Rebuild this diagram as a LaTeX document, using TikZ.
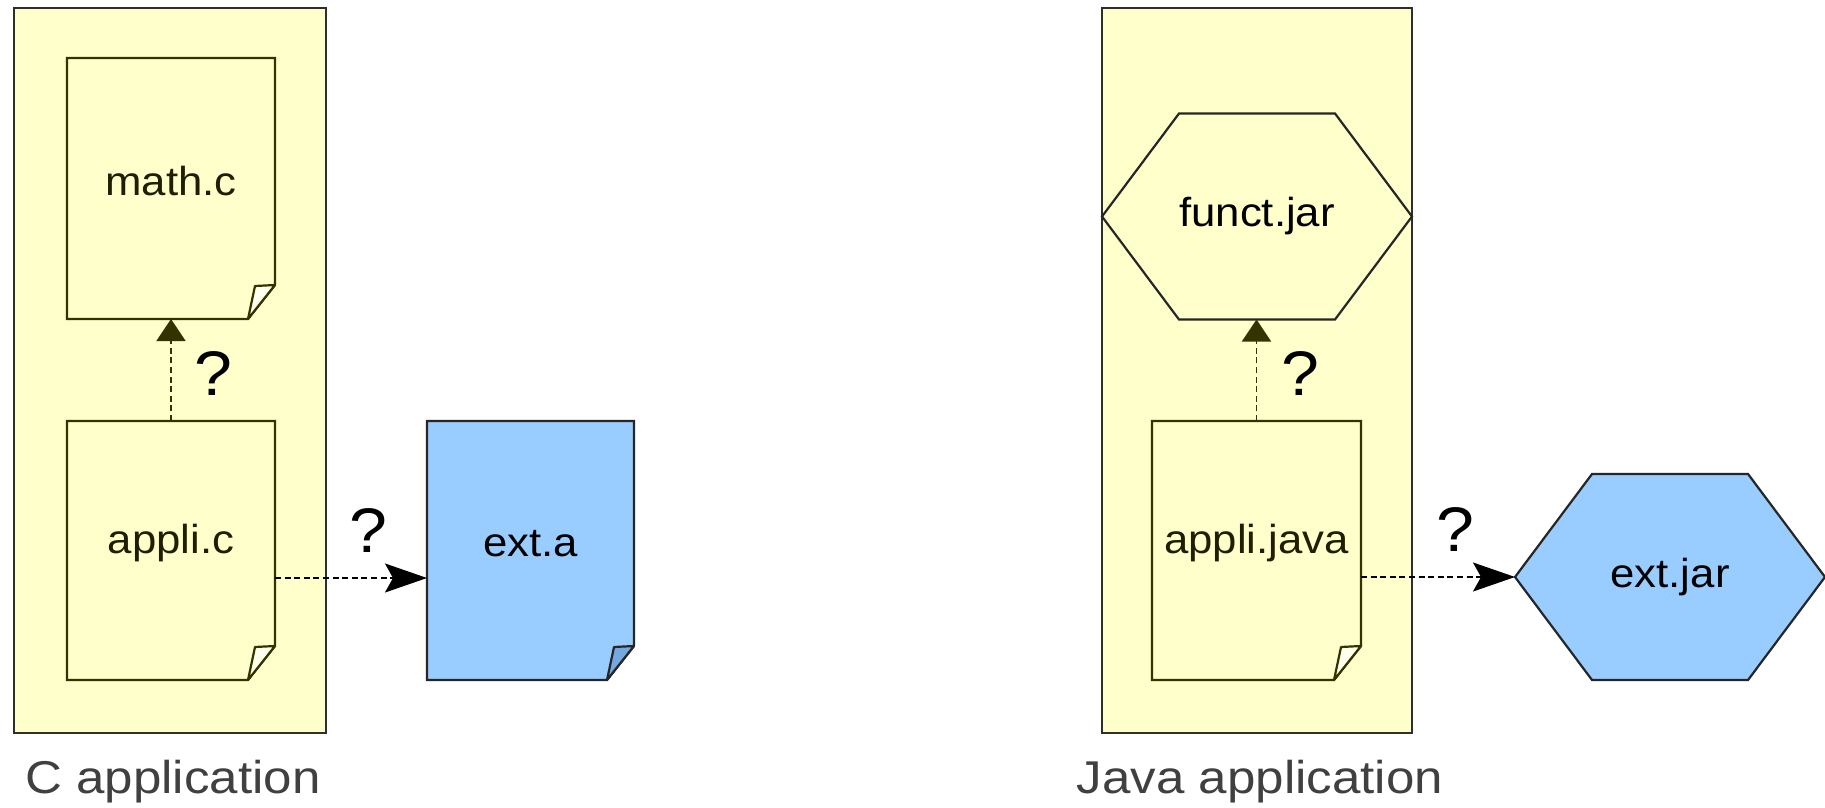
\documentclass[tikz,border=0pt]{standalone}
\usepackage{fontspec}
\setmainfont[FakeStretch=1.08]{Liberation Sans}
\newfontfamily\capfont[FakeStretch=1.11]{Liberation Sans}
\usetikzlibrary{arrows.meta,calc}
\definecolor{paperfill}{HTML}{FFFFCC}
\definecolor{flapfill}{HTML}{FFFFEE}
\definecolor{bluefill}{HTML}{99CCFF}
\definecolor{blueflap}{HTML}{74A9E0}
\definecolor{docline}{HTML}{333300}
\definecolor{boxline}{HTML}{2E2E2E}
\definecolor{captext}{HTML}{404040}
\definecolor{labtext}{HTML}{1E1E00}
\pgfdeclarelayer{bg}
\pgfsetlayers{bg,main}
\tikzset{
  appbox/.style={draw=boxline, line width=1.4pt, fill=paperfill, inner sep=0pt, outer sep=0pt, minimum height=362.5pt},
  docnode/.style={inner sep=0pt, outer sep=0pt, minimum width=104pt, minimum height=129.5pt},
  hexnode/.style={inner sep=0pt, outer sep=0pt, minimum width=155pt, minimum height=103pt, text=black, font=\fontsize{20.25}{24}\selectfont},
  doclabel/.style={font=\fontsize{20.25}{24}\selectfont, text=labtext, yshift=3.5pt, inner sep=0pt},
  qmark/.style={font=\fontsize{31.5}{36}\selectfont, inner sep=0pt},
  caption/.style={font=\capfont\fontsize{23}{27}\selectfont, text=captext, anchor=base, inner sep=0pt},
  dep/.style={dash pattern=on 3pt off 1.8pt, line width=0.9pt},
  upline/.style={dep, draw=docline, -{Triangle[length=11pt,width=14.5pt]}},
  rightline/.style={dep, draw=black, -{Stealth[length=21pt,width=14.5pt,inset=4pt]}},
  hexline/.style={draw=black!85, line width=1.1pt, line join=miter},
}
\newcommand\docpath[4]{%
  \draw[draw=#4, line width=1.1pt, fill=#2] (#1.north west) -- (#1.north east) -- ($(#1.south east)+(0,-34)$) -- ($(#1.south east)+(-27,0)$) -- (#1.south west) -- cycle;
  \draw[draw=#4, line width=1.1pt, fill=#3, line join=round] ($(#1.south east)+(0,-34)$) -- ($(#1.south east)+(-20,-33)$) -- ($(#1.south east)+(-27,0)$) -- cycle;}
\newcommand\hexpath[2]{%
  \draw[hexline, fill=#2] (#1.west) -- ($(#1.north west)+(77,0)$) -- ($(#1.north east)+(-77,0)$) -- (#1.east) -- ($(#1.south east)+(-77,0)$) -- ($(#1.south west)+(77,0)$) -- cycle;}
\begin{document}
\begin{tikzpicture}[x=0.5pt,y=-0.5pt]
\useasboundingbox (0,0) rectangle (1825,808);
% nodes
\node[docnode, minimum height=130.5pt, label={[doclabel]center:math.c}] (math) at (171,188.5) {};
\node[docnode, label={[doclabel]center:appli.c}] (appc) at (171,550.5) {};
\node[docnode, minimum width=103.5pt, label={[doclabel, text=black]center:ext.a}] (exta) at (530.5,550.5) {};
\node[docnode, minimum width=104.5pt, label={[doclabel]center:appli.java}] (appjava) at (1256.5,550.5) {};
\node[hexnode] (funct) at (1257,216.5) {funct.jar};
\node[hexnode] (extjar) at (1670,577) {ext.jar};
% background shapes
\begin{pgfonlayer}{bg}
  \fill[white] (0,0) rectangle (1825,808);
  \node[appbox, minimum width=156pt] (cbox) at (170,370.5) {};
  \node[appbox, minimum width=155pt] (jbox) at (1257,370.5) {};
  \docpath{math}{paperfill}{flapfill}{docline}
  \docpath{appc}{paperfill}{flapfill}{docline}
  \docpath{exta}{bluefill}{blueflap}{black!85}
  \docpath{appjava}{paperfill}{flapfill}{docline}
  \hexpath{funct}{paperfill}
  \hexpath{extjar}{bluefill}
\end{pgfonlayer}
% connectors
\draw[upline] (appc.north) -- (math.south);
\draw[rightline] ([yshift=-13.75pt]appc.east) -- ([yshift=-13.75pt]exta.west);
\draw[upline] (appjava.north) -- (appjava.north |- funct.south);
\draw[rightline] (appjava.east |- extjar.west) -- (extjar.west);
% question marks
\node[qmark] (q1) at (213,374) {?};
\node[qmark] (q2) at (368,530) {?};
\node[qmark] (q3) at (1300,374) {?};
\node[qmark] (q4) at (1455,529) {?};
% captions
\node[caption] (ccap) at (173,793) {C application};
\node[caption] (jcap) at (1260,793) {Java application};
\end{tikzpicture}
\end{document}
